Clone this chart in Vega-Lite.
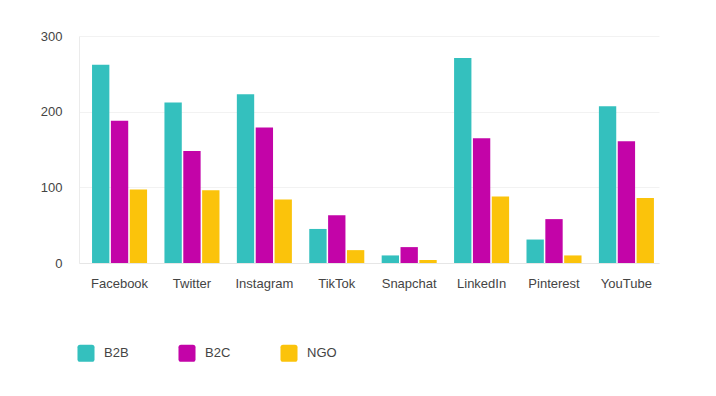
{
  "$schema": "https://vega.github.io/schema/vega-lite/v6.json",
  "autosize": "none",
  "width": 580,
  "height": 227,
  "padding": {"left": 79, "top": 36, "right": 57, "bottom": 133},
  "background": "white",
  "config": {
    "font": "Liberation Sans",
    "view": {"stroke": null}
  },
  "data": {
    "values": [
      {"platform": "Facebook", "segment": "B2B", "value": 262},
      {"platform": "Facebook", "segment": "B2C", "value": 188},
      {"platform": "Facebook", "segment": "NGO", "value": 97},
      {"platform": "Twitter", "segment": "B2B", "value": 212},
      {"platform": "Twitter", "segment": "B2C", "value": 148},
      {"platform": "Twitter", "segment": "NGO", "value": 96},
      {"platform": "Instagram", "segment": "B2B", "value": 223},
      {"platform": "Instagram", "segment": "B2C", "value": 179},
      {"platform": "Instagram", "segment": "NGO", "value": 84},
      {"platform": "TikTok", "segment": "B2B", "value": 45},
      {"platform": "TikTok", "segment": "B2C", "value": 63},
      {"platform": "TikTok", "segment": "NGO", "value": 17},
      {"platform": "Snapchat", "segment": "B2B", "value": 10},
      {"platform": "Snapchat", "segment": "B2C", "value": 21},
      {"platform": "Snapchat", "segment": "NGO", "value": 4},
      {"platform": "LinkedIn", "segment": "B2B", "value": 271},
      {"platform": "LinkedIn", "segment": "B2C", "value": 165},
      {"platform": "LinkedIn", "segment": "NGO", "value": 88},
      {"platform": "Pinterest", "segment": "B2B", "value": 31},
      {"platform": "Pinterest", "segment": "B2C", "value": 58},
      {"platform": "Pinterest", "segment": "NGO", "value": 10},
      {"platform": "YouTube", "segment": "B2B", "value": 207},
      {"platform": "YouTube", "segment": "B2C", "value": 161},
      {"platform": "YouTube", "segment": "NGO", "value": 86}
    ]
  },
  "mark": {"type": "bar"},
  "encoding": {
    "x": {
      "field": "platform",
      "type": "nominal",
      "sort": null,
      "scale": {"paddingInner": 0.24, "paddingOuter": 0.125, "align": 0.72},
      "axis": {
        "title": null,
        "labelAngle": 0,
        "labelFontSize": 13,
        "labelColor": "#444444",
        "labelPadding": 14,
        "ticks": false,
        "domain": true,
        "domainColor": "#e6e6e6",
        "grid": false
      }
    },
    "xOffset": {
      "field": "segment",
      "type": "nominal",
      "scale": {"paddingInner": 0.08}
    },
    "y": {
      "field": "value",
      "type": "quantitative",
      "scale": {"domain": [0, 300]},
      "axis": {
        "title": null,
        "values": [0, 100, 200, 300],
        "labelFontSize": 13,
        "labelColor": "#444444",
        "labelPadding": 17,
        "ticks": false,
        "domain": true,
        "domainColor": "#ebebeb",
        "gridColor": "#f2f2f2"
      }
    },
    "color": {
      "field": "segment",
      "type": "nominal",
      "scale": {"domain": ["B2B", "B2C", "NGO"], "range": ["#34C0BE", "#C304A8", "#FBC30B"]},
      "legend": {
        "title": null,
        "orient": "none",
        "direction": "horizontal",
        "legendX": -2,
        "legendY": 308,
        "symbolType": "M-0.7,-1H0.7Q1,-1 1,-0.7V0.7Q1,1 0.7,1H-0.7Q-1,1 -1,0.7V-0.7Q-1,-1 -0.7,-1Z",
        "symbolSize": 290,
        "symbolStrokeWidth": 0,
        "symbolOpacity": 1,
        "labelFontSize": 13,
        "labelColor": "#444444",
        "labelOffset": 9,
        "columnPadding": 49
      }
    }
  }
}
